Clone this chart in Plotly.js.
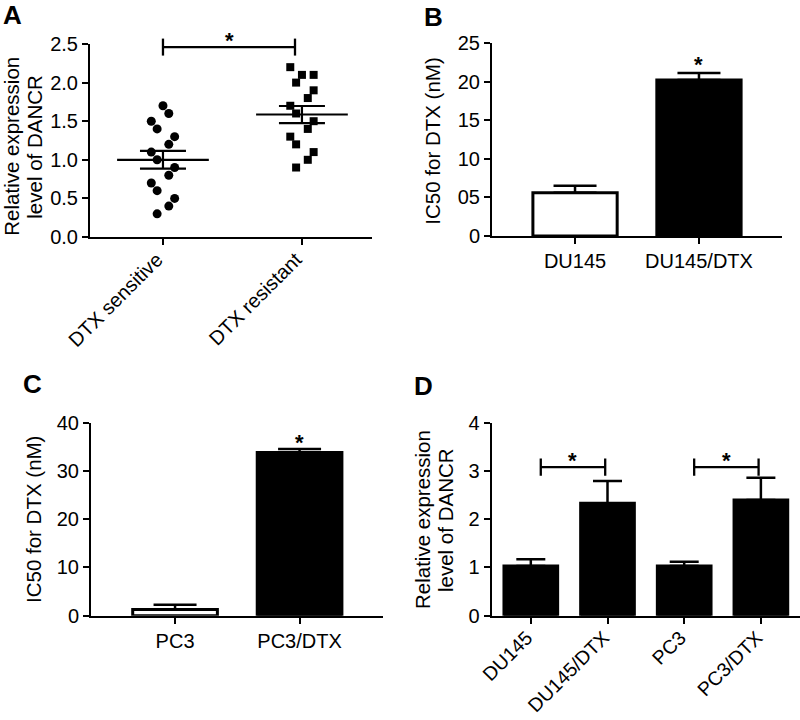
<!DOCTYPE html>
<html>
<head>
<meta charset="utf-8">
<script src="https://cdn.plot.ly/plotly-3.0.1.min.js"></script>
<style>html,body{margin:0;padding:0;background:#fff;}#chart{width:800px;height:720px;}</style>
</head>
<body>
<div id="chart"></div>
<script>
// ---------- DATA ----------
// Panel A: scatter of relative DANCR expression
const catsA = ['DTX sensitive', 'DTX resistant'];
const sensVals = [1.7, 1.6, 1.5, 1.4, 1.3, 1.2, 1.1, 1.0, 0.9, 0.8, 0.7, 0.6, 0.5, 0.4, 0.3];
const sensSlot = [0, 1, -2, -1, 2, 1, -2, -1, 2, 1, -2, -1, 2, 1, -1];
const resVals = [2.2, 2.1, 2.1, 2.0, 1.9, 1.8, 1.7, 1.6, 1.5, 1.4, 1.3, 1.2, 1.1, 1.0, 0.9];
const resSlot = [-2, 0, 2, -1, 2, 1, -2, -1, 2, 1, -2, -1, 2, 1, -1];
const ticksA = ['0.0', '0.5', '1.0', '1.5', '2.0', '2.5'];

// Panel B: IC50 DU145
const catsB = ['DU145', 'DU145/DTX'];
const valsB = [5.6, 20.2];
const errB = [0.9, 0.9];
const tickValsB = [0, 5, 10, 15, 20, 25];
const tickTextB = ['0', '05', '10', '15', '20', '25'];

// Panel C: IC50 PC3
const catsC = ['PC3', 'PC3/DTX'];
const valsC = [1.3, 33.8];
const errC = [0.95, 0.75];

// Panel D: relative DANCR expression
const catsD = ['DU145', 'DU145/DTX', 'PC3', 'PC3/DTX'];
const valsD = [1.03, 2.33, 1.03, 2.40];
const errD = [0.14, 0.46, 0.09, 0.46];

// ---------- HELPERS ----------
const FONT = 'Liberation Sans, Arial, Helvetica, sans-serif';
const W = 800, H = 720;
const px = v => v / W;
const py = v => 1 - v / H;

function mean(a) { return a.reduce((s, v) => s + v, 0) / a.length; }
function sem(a) {
  const m = mean(a);
  const sd = Math.sqrt(a.reduce((s, v) => s + (v - m) * (v - m), 0) / (a.length - 1));
  return sd / Math.sqrt(a.length);
}

const slotStep = 0.042;
const traces = [];

// Panel A points
traces.push({
  type: 'scatter', mode: 'markers', xaxis: 'x', yaxis: 'y',
  x: sensSlot.map(s => 0 + s * slotStep), y: sensVals,
  marker: { symbol: 'circle', size: 9, color: '#000' }, hoverinfo: 'y'
});
traces.push({
  type: 'scatter', mode: 'markers', xaxis: 'x', yaxis: 'y',
  x: resSlot.map(s => 1 + s * slotStep), y: resVals,
  marker: { symbol: 'square', size: 8, color: '#000' }, hoverinfo: 'y'
});
// mean lines and SEM
[sensVals, resVals].forEach((vals, i) => {
  const m = mean(vals);
  traces.push({
    type: 'scatter', mode: 'lines', xaxis: 'x', yaxis: 'y',
    x: [i - 0.33, i + 0.33], y: [m, m],
    line: { color: '#000', width: 2.2 }, hoverinfo: 'skip'
  });
  traces.push({
    type: 'scatter', mode: 'markers', xaxis: 'x', yaxis: 'y',
    x: [i], y: [m], marker: { size: 1, color: 'rgba(0,0,0,0)' },
    error_y: { type: 'data', array: [sem(vals)], visible: true, color: '#000', thickness: 2.2, width: 23 },
    hoverinfo: 'skip'
  });
});
// empty helper trace so the taller annotation axis of panel A exists
traces.push({ type: 'scatter', mode: 'markers', x: [], y: [], xaxis: 'x', yaxis: 'y5', hoverinfo: 'skip' });

function barTrace(cats, vals, errs, colors, xa, ya, width, capw) {
  return {
    type: 'bar', x: cats, y: vals, xaxis: xa, yaxis: ya, width: width,
    marker: { color: colors, line: { color: '#000', width: 3 } },
    error_y: { type: 'data', symmetric: false, array: errs, arrayminus: errs.map(() => 0),
               visible: true, color: '#000', thickness: 2.5, width: capw },
    hoverinfo: 'x+y'
  };
}
traces.push(barTrace(catsB, valsB, errB, ['#fff', '#000'], 'x2', 'y2', 0.68, 21.5));
traces.push(barTrace(catsC, valsC, errC, ['#fff', '#000'], 'x3', 'y3', 0.68, 21.5));
traces.push(barTrace(catsD, valsD, errD, ['#000', '#000', '#000', '#000'], 'x4', 'y4', 0.70, 14.5));

// ---------- AXES ----------
const tickFont = { family: FONT, size: 20, color: '#000' };
function axBase(extra) {
  return Object.assign({
    showline: true, linecolor: '#000', linewidth: 2, mirror: false,
    ticks: 'outside', ticklen: 6, tickwidth: 2, tickcolor: '#000',
    showgrid: false, zeroline: false, fixedrange: true, tickfont: tickFont
  }, extra);
}

// panel A: axis geometry (pixels) — the annotation axis y5 shares the same scale but is taller
const aTop = 44, aBot = 237, aTop5 = 14;
const aMax = 2.5;

const layout = {
  width: W, height: H, margin: { l: 0, r: 0, t: 0, b: 0 },
  paper_bgcolor: '#fff', plot_bgcolor: 'rgba(0,0,0,0)',
  showlegend: false, font: { family: FONT, color: '#000' },
  // Panel A
  xaxis: axBase({ domain: [px(90), px(372)], range: [-0.525, 1.504], anchor: 'y',
    tickmode: 'array', tickvals: [0, 1], ticktext: catsA, tickangle: -45,
    ticklabelstandoff: -5, ticklabelshift: -6 }),
  yaxis: axBase({ domain: [py(aBot), py(aTop)], range: [0, aMax], anchor: 'x',
    tickmode: 'array', tickvals: ticksA.map(Number), ticktext: ticksA }),
  yaxis5: { domain: [py(aBot), py(aTop5)], range: [0, aMax * (aBot - aTop5) / (aBot - aTop)],
    anchor: 'x', visible: false, fixedrange: true, showgrid: false, zeroline: false },
  // Panel B
  xaxis2: axBase({ domain: [px(492), px(782)], range: [-0.67, 1.67], anchor: 'y2',
    type: 'category', tickangle: 0 }),
  yaxis2: axBase({ domain: [py(236), py(43)], range: [0, 25], anchor: 'x2',
    tickmode: 'array', tickvals: tickValsB, ticktext: tickTextB }),
  // Panel C
  xaxis3: axBase({ domain: [px(91), px(383)], range: [-0.675, 1.67], anchor: 'y3',
    type: 'category', tickangle: 0 }),
  yaxis3: axBase({ domain: [py(615.7), py(422.7)], range: [0, 40], anchor: 'x3', dtick: 10 }),
  // Panel D
  xaxis4: axBase({ domain: [px(491.7), 1], range: [-0.51, 3.51], anchor: 'y4',
    type: 'category', tickangle: -45, ticklabelstandoff: -5, ticklabelshift: -4,
    tickfont: { family: FONT, size: 19.5, color: '#000' } }),
  yaxis4: axBase({ domain: [py(615.7), py(422.7)], range: [0, 4], anchor: 'x4', dtick: 1 }),
  shapes: [], annotations: []
};

// significance brackets [xref, yref, x0, x1, y, tipHalf]
const brackets = [
  ['x', 'y5', 0, 0.95, 2.46, 0.11],
  ['x4', 'y4', 0.13, 0.97, 3.08, 0.18],
  ['x4', 'y4', 2.13, 2.97, 3.08, 0.18]
];
brackets.forEach(b => {
  const [xr, yr, x0, x1, y, t] = b;
  const ln = { color: '#000', width: 2.3 };
  layout.shapes.push({ type: 'line', xref: xr, yref: yr, x0: x0, x1: x1, y0: y, y1: y, line: ln });
  layout.shapes.push({ type: 'line', xref: xr, yref: yr, x0: x0, x1: x0, y0: y - t, y1: y + t, line: ln });
  layout.shapes.push({ type: 'line', xref: xr, yref: yr, x0: x1, x1: x1, y0: y - t, y1: y + t, line: ln });
});

// asterisks [xref, yref, x, y]
const stars = [
  ['x', 'y5', 0.48, 2.55],
  ['x2', 'y2', 1, 22.2],
  ['x3', 'y3', 1, 36.0],
  ['x4', 'y4', 0.55, 3.22],
  ['x4', 'y4', 2.55, 3.22]
];
stars.forEach(s => {
  layout.annotations.push({ xref: s[0], yref: s[1], x: s[2], y: s[3], text: '<b>*</b>',
    showarrow: false, xanchor: 'center', yanchor: 'middle',
    font: { family: FONT, size: 22, color: '#000' } });
});

// y-axis titles, one annotation per line (paper px centre)
const yTitles = [
  ['Relative expression', 12, 146.7],
  ['level of DANCR', 35, 146.7],
  ['IC50 for DTX (nM)', 433, 141.7],
  ['IC50 for DTX (nM)', 33, 520],
  ['Relative expression', 422, 520],
  ['level of DANCR', 445, 520]
];
yTitles.forEach(t => {
  layout.annotations.push({ xref: 'paper', yref: 'paper', x: px(t[1]), y: py(t[2]), text: t[0],
    textangle: -90, showarrow: false, xanchor: 'center', yanchor: 'middle',
    font: { family: FONT, size: 20.5, color: '#000' } });
});

// panel letters
const letters = [['A', 12, 14.5], ['B', 433, 16.5], ['C', 32.5, 384], ['D', 423, 386]];
letters.forEach(l => {
  layout.annotations.push({ xref: 'paper', yref: 'paper', x: px(l[1]), y: py(l[2]),
    text: '<b>' + l[0] + '</b>', showarrow: false, xanchor: 'center', yanchor: 'middle',
    font: { family: FONT, size: 26, color: '#000' } });
});

Plotly.newPlot('chart', traces, layout, { staticPlot: true, displayModeBar: false });
</script>
</body>
</html>
